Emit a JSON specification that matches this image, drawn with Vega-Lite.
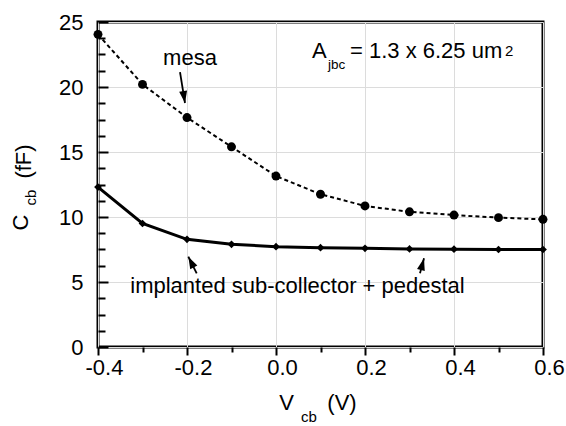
{
  "$schema": "https://vega.github.io/schema/vega-lite/v6.json",
  "width": 445,
  "height": 325,
  "autosize": {"type": "none"},
  "padding": {"left": 98, "top": 22, "right": 23, "bottom": 79},
  "background": "white",
  "config": {
    "view": {"stroke": "black", "strokeWidth": 3},
    "font": "Liberation Sans",
    "text": {"font": "Liberation Sans", "color": "black"}
  },
  "resolve": {"axis": {"y": "independent"}},
  "datasets": {
    "curves": [
      {"series": "mesa", "v": -0.4, "c": 24.05},
      {"series": "mesa", "v": -0.3, "c": 20.2},
      {"series": "mesa", "v": -0.2, "c": 17.65},
      {"series": "mesa", "v": -0.1, "c": 15.4},
      {"series": "mesa", "v": 0.0, "c": 13.15},
      {"series": "mesa", "v": 0.1, "c": 11.75},
      {"series": "mesa", "v": 0.2, "c": 10.85},
      {"series": "mesa", "v": 0.3, "c": 10.4},
      {"series": "mesa", "v": 0.4, "c": 10.15},
      {"series": "mesa", "v": 0.5, "c": 9.95},
      {"series": "mesa", "v": 0.6, "c": 9.82},
      {"series": "implanted", "v": -0.4, "c": 12.3},
      {"series": "implanted", "v": -0.3, "c": 9.5},
      {"series": "implanted", "v": -0.2, "c": 8.28},
      {"series": "implanted", "v": -0.1, "c": 7.9},
      {"series": "implanted", "v": 0.0, "c": 7.72},
      {"series": "implanted", "v": 0.1, "c": 7.64},
      {"series": "implanted", "v": 0.2, "c": 7.59},
      {"series": "implanted", "v": 0.3, "c": 7.54},
      {"series": "implanted", "v": 0.4, "c": 7.52},
      {"series": "implanted", "v": 0.5, "c": 7.5},
      {"series": "implanted", "v": 0.6, "c": 7.5}
    ],
    "arrows": [
      {"name": "mesa", "x1": -0.2157, "y1": 21.15, "x2": -0.2045, "y2": 18.77, "dir": 171},
      {"name": "impl-left", "x1": -0.1782, "y1": 5.67, "x2": -0.197, "y2": 6.95, "dir": 333},
      {"name": "impl-right", "x1": 0.3236, "y1": 5.67, "x2": 0.3326, "y2": 6.82, "dir": 15}
    ],
    "labelsCenter": [
      {"text": "mesa", "x": -0.1933, "y": 21.69},
      {"text": "implanted sub-collector + pedestal", "x": 0.0483, "y": 4.154},
      {"text": "V", "x": 0.0236, "y": -4.846},
      {"text": "(V)", "x": 0.1483, "y": -4.846}
    ],
    "labelsLeft": [
      {"text": "A", "x": 0.0809, "y": 22.23},
      {"text": "= 1.3 x 6.25 um", "x": 0.1663, "y": 22.23}
    ],
    "subsLeft": [
      {"text": "jbc", "x": 0.117, "y": 21.38}
    ],
    "supsLeft": [
      {"text": "2", "x": 0.5146, "y": 22.38}
    ],
    "subsCenter": [
      {"text": "cb", "x": 0.0742, "y": -5.77}
    ],
    "rotLabels": [
      {"text": "C", "x": -0.5573, "y": 9.58},
      {"text": "(fF)", "x": -0.5506, "y": 14.27}
    ],
    "rotSubs": [
      {"text": "cb", "x": -0.5393, "y": 11.5}
    ]
  },
  "layer": [
    {
      "data": {"name": "curves"},
      "transform": [{"filter": "datum.series === 'mesa'"}],
      "mark": {"type": "line", "color": "black", "strokeWidth": 2, "strokeDash": [4, 3]},
      "encoding": {
        "x": {
          "field": "v", "type": "quantitative",
          "scale": {"domain": [-0.4, 0.6], "nice": false, "zero": false},
          "axis": {
            "title": null,
            "domain": false,
            "values": [-0.4, -0.35, -0.3, -0.25, -0.2, -0.15, -0.1, -0.05, 0, 0.05, 0.1, 0.15, 0.2, 0.25, 0.3, 0.35, 0.4, 0.45, 0.5, 0.55, 0.6],
            "labelExpr": "round(datum.value*20)%4==0 ? replace(format(datum.value,'.1f'),'\u2212','-') : ''",
            "labelFont": "Liberation Sans",
            "labelFontSize": 22,
            "labelColor": "black",
            "labelPadding": 2,
            "labelOffset": 6,
            "labelFlush": false,
            "labelOverlap": false,
            "tickColor": "black",
            "tickWidth": 2,
            "tickSize": {"condition": {"test": "round(datum.value*20)%4==0", "value": 8}, "value": 5},
            "grid": true,
            "gridColor": "#dcdcdc",
            "gridWidth": 1,
            "gridOpacity": {"condition": {"test": "round(datum.value*20)%4==0", "value": 1}, "value": 0}
          }
        },
        "y": {
          "field": "c", "type": "quantitative",
          "scale": {"domain": [0, 25], "nice": false, "zero": false},
          "axis": {
            "title": null,
            "orient": "left",
            "domain": false,
            "ticks": false,
            "values": [0, 5, 10, 15, 20, 25],
            "format": "d",
            "labelFont": "Liberation Sans",
            "labelFontSize": 22,
            "labelColor": "black",
            "labelPadding": 15,
            "labelFlush": false,
            "labelOverlap": false,
            "grid": true,
            "gridColor": "#dcdcdc",
            "gridWidth": 1
          }
        }
      }
    },
    {
      "data": {"name": "curves"},
      "transform": [{"filter": "datum.series === 'mesa'"}],
      "mark": {"type": "point", "shape": "circle", "filled": true, "color": "black", "opacity": 1, "size": 80},
      "encoding": {
        "x": {"field": "v", "type": "quantitative"},
        "y": {
          "field": "c", "type": "quantitative",
          "axis": {
            "title": null,
            "orient": "left",
            "offset": -10,
            "domain": false,
            "labels": false,
            "grid": false,
            "values": [0, 5, 10, 15, 20, 25],
            "tickColor": "black",
            "tickWidth": 2,
            "tickSize": 10
          }
        }
      }
    },
    {
      "data": {"name": "curves"},
      "transform": [{"filter": "datum.series === 'implanted'"}],
      "mark": {"type": "line", "color": "black", "strokeWidth": 3},
      "encoding": {
        "x": {"field": "v", "type": "quantitative"},
        "y": {
          "field": "c", "type": "quantitative",
          "axis": {
            "title": null,
            "orient": "left",
            "offset": -7,
            "domain": false,
            "labels": false,
            "grid": false,
            "values": [1.25, 2.5, 3.75, 6.25, 7.5, 8.75, 11.25, 12.5, 13.75, 16.25, 17.5, 18.75, 21.25, 22.5, 23.75],
            "tickColor": "black",
            "tickWidth": 2,
            "tickSize": 7
          }
        }
      }
    },
    {
      "data": {"name": "curves"},
      "transform": [{"filter": "datum.series === 'implanted'"}],
      "mark": {"type": "point", "shape": "diamond", "filled": true, "color": "black", "opacity": 1, "size": 60},
      "encoding": {
        "x": {"field": "v", "type": "quantitative"},
        "y": {"field": "c", "type": "quantitative", "axis": null}
      }
    },
    {
      "data": {"name": "arrows"},
      "mark": {"type": "rule", "color": "black", "strokeWidth": 1.8},
      "encoding": {
        "x": {"field": "x1", "type": "quantitative"},
        "y": {"field": "y1", "type": "quantitative", "axis": null},
        "x2": {"field": "x2"},
        "y2": {"field": "y2"}
      }
    },
    {
      "data": {"name": "arrows"},
      "mark": {"type": "point", "shape": "M0,0L0.8,2.4L-0.8,2.4Z", "filled": true, "color": "black", "opacity": 1, "size": 100},
      "encoding": {
        "x": {"field": "x2", "type": "quantitative"},
        "y": {"field": "y2", "type": "quantitative", "axis": null},
        "angle": {"field": "dir", "type": "quantitative", "scale": null}
      }
    },
    {
      "data": {"name": "labelsCenter"},
      "mark": {"type": "text", "align": "center", "baseline": "alphabetic", "fontSize": 22},
      "encoding": {
        "x": {"field": "x", "type": "quantitative"},
        "y": {"field": "y", "type": "quantitative", "axis": null},
        "text": {"field": "text"}
      }
    },
    {
      "data": {"name": "labelsLeft"},
      "mark": {"type": "text", "align": "left", "baseline": "alphabetic", "fontSize": 22},
      "encoding": {
        "x": {"field": "x", "type": "quantitative"},
        "y": {"field": "y", "type": "quantitative", "axis": null},
        "text": {"field": "text"}
      }
    },
    {
      "data": {"name": "subsLeft"},
      "mark": {"type": "text", "align": "left", "baseline": "alphabetic", "fontSize": 13.5},
      "encoding": {
        "x": {"field": "x", "type": "quantitative"},
        "y": {"field": "y", "type": "quantitative", "axis": null},
        "text": {"field": "text"}
      }
    },
    {
      "data": {"name": "supsLeft"},
      "mark": {"type": "text", "align": "left", "baseline": "alphabetic", "fontSize": 15},
      "encoding": {
        "x": {"field": "x", "type": "quantitative"},
        "y": {"field": "y", "type": "quantitative", "axis": null},
        "text": {"field": "text"}
      }
    },
    {
      "data": {"name": "subsCenter"},
      "mark": {"type": "text", "align": "center", "baseline": "alphabetic", "fontSize": 15},
      "encoding": {
        "x": {"field": "x", "type": "quantitative"},
        "y": {"field": "y", "type": "quantitative", "axis": null},
        "text": {"field": "text"}
      }
    },
    {
      "data": {"name": "rotLabels"},
      "mark": {"type": "text", "align": "center", "baseline": "alphabetic", "fontSize": 22, "angle": 270},
      "encoding": {
        "x": {"field": "x", "type": "quantitative"},
        "y": {"field": "y", "type": "quantitative", "axis": null},
        "text": {"field": "text"}
      }
    },
    {
      "data": {"name": "rotSubs"},
      "mark": {"type": "text", "align": "center", "baseline": "alphabetic", "fontSize": 15, "angle": 270},
      "encoding": {
        "x": {"field": "x", "type": "quantitative"},
        "y": {"field": "y", "type": "quantitative", "axis": null},
        "text": {"field": "text"}
      }
    }
  ]
}
